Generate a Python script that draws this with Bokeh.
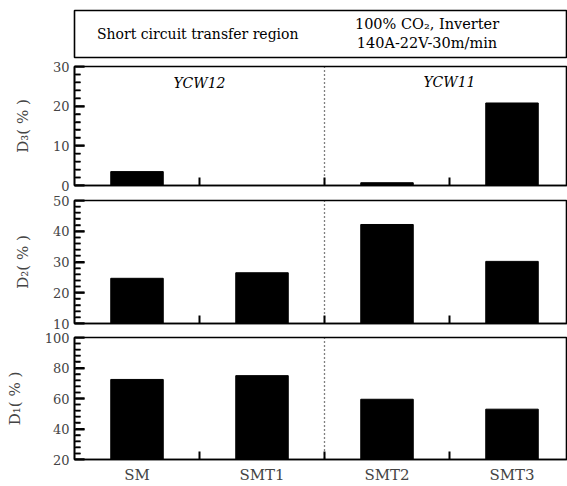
from bokeh.plotting import figure
from bokeh.layouts import column
from bokeh.models import Range1d, FixedTicker, Span
from bokeh.core.properties import value
from bokeh.embed import file_html
from bokeh.resources import INLINE

categories = ["SM", "SMT1", "SMT2", "SMT3"]
d3 = [3.5, 0.0, 0.7, 20.8]
d2 = [24.7, 26.5, 42.2, 30.2]
d1 = [72.5, 75.0, 59.5, 53.0]
group_labels = ["YCW12", "YCW11"]
header_left = "Short circuit transfer region"
header_right = ["100% CO\u2082, Inverter", "140A-22V-30m/min"]

FONT = "DejaVu Serif"
xs = [i + 0.5 for i in range(len(categories))]
bounds = [1, 2, 3]
XMAX = 3.944
PX = XMAX / 493.0  # x data units per screen pixel


def panel(h, top_b, bot_b, ymin, ymax, major, minor, vals, ylabel, show_x):
    p = figure(width=567, height=h, output_backend="svg", toolbar_location=None,
               x_range=Range1d(0, XMAX), y_range=Range1d(ymin, ymax),
               min_border_left=74, min_border_right=0,
               min_border_top=top_b, min_border_bottom=bot_b)
    p.outline_line_color = "black"
    p.outline_line_width = 1.6
    p.grid.visible = False
    p.vbar(x=xs, top=vals, bottom=ymin, width=0.42, fill_color="black", line_color="black")
    p.add_layout(Span(location=2, dimension="height", line_color="black",
                      line_width=1.3, line_dash="1 3"))
    ticks = list(range(ymin, ymax + 1, major))
    mticks = [v for v in range(ymin, ymax + 1, minor) if v not in ticks]
    # inward y ticks drawn as short segments from the tick values
    p.segment(x0=[PX] * len(ticks), x1=[10 * PX] * len(ticks), y0=ticks, y1=ticks,
              line_color="black", line_width=2)
    p.segment(x0=[PX] * len(mticks), x1=[6 * PX] * len(mticks), y0=mticks, y1=mticks,
              line_color="black", line_width=1.5)
    # x axis: category labels at centres, minor ticks at group boundaries
    xa = p.xaxis[0]
    xa.ticker = FixedTicker(ticks=xs if show_x else [], minor_ticks=bounds)
    xa.major_label_overrides = {x: c for x, c in zip(xs, categories)}
    xa.major_tick_in = 0
    xa.major_tick_out = 0
    xa.minor_tick_in = 8
    xa.minor_tick_out = 0
    xa.minor_tick_line_color = "black"
    xa.minor_tick_line_width = 2
    xa.axis_line_width = 1.6
    xa.major_label_text_font = FONT
    xa.major_label_text_font_size = "15px"
    xa.major_label_standoff = 6
    # y axis
    ya = p.yaxis[0]
    ya.ticker = FixedTicker(ticks=ticks, minor_ticks=mticks)
    ya.major_tick_in = 10
    ya.major_tick_out = 0
    ya.major_tick_line_color = "black"
    ya.major_tick_line_width = 2
    ya.minor_tick_in = 6
    ya.minor_tick_out = 0
    ya.minor_tick_line_color = "black"
    ya.minor_tick_line_width = 1.5
    ya.axis_line_width = 1.6
    ya.major_label_text_font = FONT
    ya.major_label_text_font_size = "13px"
    ya.major_label_standoff = 5
    ya.axis_label = ylabel
    ya.axis_label_text_font = FONT
    ya.axis_label_text_font_style = "normal"
    ya.axis_label_text_font_size = "15px"
    ya.axis_label_standoff = 18
    return p


hdr = figure(width=567, height=60, output_backend="svg", toolbar_location=None,
             x_range=Range1d(0, 1), y_range=Range1d(0, 1),
             min_border_left=72, min_border_right=0, min_border_top=10, min_border_bottom=3)
hdr.axis.visible = False
hdr.grid.visible = False
hdr.outline_line_color = "black"
hdr.outline_line_width = 1.6
hdr.text(x=[0.25], y=[0.5], text=[header_left], text_font=value(FONT),
         text_font_size="14px", text_align="center", text_baseline="middle")
hdr.text(x=[0.715, 0.715], y=[0.72, 0.31], text=header_right, text_font=value(FONT),
         text_font_size="14.5px", text_align="center", text_baseline="middle")

p1 = panel(132, 6, 7, 0, 30, 10, 2, d3, "D\u2083( % )", False)
p1.text(x=[1.0, 3.0], y=[25.8, 26.0], text=group_labels, text_font=value(FONT),
        text_font_size="14px", text_font_style="italic", text_align="center",
        text_baseline="middle")
p2 = panel(138, 8, 7, 10, 50, 10, 2, d2, "D\u2082( % )", False)
p3 = panel(156, 7, 25, 20, 100, 20, 4, d1, "D\u2081( % )", True)

layout = column(hdr, p1, p2, p3, spacing=0)
open("out.html", "w").write(file_html(layout, INLINE))
